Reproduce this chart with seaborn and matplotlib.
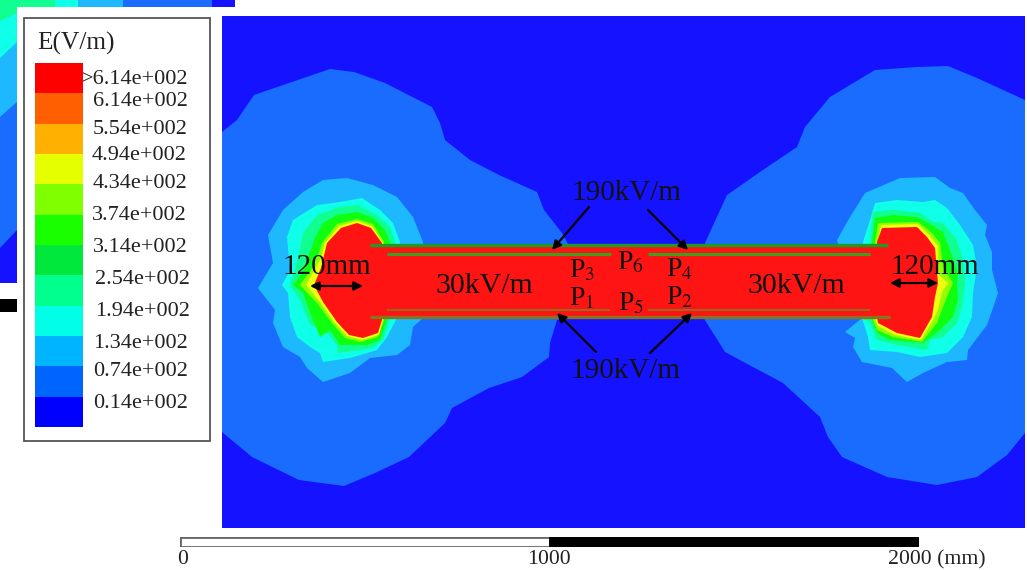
import matplotlib
matplotlib.use('Agg')
import matplotlib.pyplot as plt
from matplotlib.colors import ListedColormap
import numpy as np
import seaborn as sns

W, H = 1027, 570

# Legend
legend_labels = ['>6.14e+002', '6.14e+002', '5.54e+002', '4.94e+002', '4.34e+002', '3.74e+002',
                 '3.14e+002', '2.54e+002', '1.94e+002', '1.34e+002', '0.74e+002', '0.14e+002']
legend_colors = ['#FF0000', '#FF5F00', '#FFB000', '#E6FF00', '#80FF00', '#19FF00',
                 '#00E83C', '#00FF8C', '#00FFE6', '#00B4FF', '#0064FF', '#0000FF']
legend_label_y = [76, 98, 127, 153, 181, 213, 244, 277, 309, 341, 369, 400]
legend_label_right = [188, 188, 188, 187, 187, 187, 188, 190, 190, 188, 188, 188]
legend_levels = [12, 11, 10, 9, 8, 7, 6, 5, 4, 3, 2, 1]

# Field colours, a bit washed compared to the legend
c_outer = '#1512FF'
c_074 = '#1A6CFF'
c_134 = '#1EB8FF'
c_194 = '#10FFE8'
c_254 = '#10FF90'
c_314 = '#10FF10'
c_374 = '#90FF00'
c_434 = '#F0FF10'
c_red = '#FF1414'

# Contour outlines, picture pixels
big_left = [(222, 132), (237, 120), (254, 95), (289, 83), (330, 69), (354, 72), (385, 83), (432, 107),
            (440, 123), (445, 140), (470, 160), (499, 175), (537, 192), (544, 210), (562, 233), (568, 244),
            (568, 318), (557, 320), (550, 343), (549, 357), (522, 377), (489, 388), (452, 408), (445, 423),
            (409, 457), (375, 473), (344, 486), (299, 480), (252, 457), (222, 432)]
big_right = [(705, 243), (727, 195), (760, 172), (797, 147), (805, 127), (830, 97), (875, 70), (917, 67),
             (948, 66), (977, 78), (1025, 100), (1025, 433), (1007, 455), (977, 477), (937, 485), (887, 477),
             (842, 457), (828, 437), (820, 417), (783, 383), (753, 367), (725, 352), (703, 317)]

left_134 = [(303, 192), (323, 180), (347, 178), (373, 185), (397, 197), (413, 217), (417, 227), (423, 242),
            (423, 318), (413, 327), (410, 345), (397, 355), (370, 358), (350, 373), (323, 382), (307, 368),
            (300, 357), (283, 347), (273, 323), (275, 310), (258, 288), (267, 273), (273, 263), (268, 235),
            (283, 210)]
left_194 = [(287, 237), (293, 220), (317, 205), (340, 202), (362, 198), (380, 210), (393, 223), (400, 242),
            (397, 318), (387, 337), (377, 350), (350, 358), (323, 362), (320, 353), (310, 347), (297, 337),
            (290, 317), (288, 293), (282, 285), (290, 270)]
left_254 = [(303, 233), (317, 215), (340, 207), (357, 205), (377, 215), (390, 227), (395, 242), (390, 318),
            (383, 340), (372, 348), (347, 352), (338, 353), (337, 345), (323, 328), (310, 325), (300, 300),
            (290, 285), (295, 270), (300, 250)]
left_314 = [(315, 238), (323, 223), (337, 215), (357, 212), (373, 218), (385, 230), (390, 242), (387, 320),
            (380, 340), (367, 345), (340, 345), (330, 330), (320, 337), (310, 313), (303, 293), (293, 285),
            (302, 273), (308, 257)]
left_374 = [(322, 243), (337, 224), (357, 219), (373, 224), (384, 242), (384, 320), (378, 337), (360, 342),
            (345, 338), (332, 323), (317, 303), (300, 285), (311, 270), (319, 253)]
left_434 = [(325, 243), (339, 226), (357, 221), (372, 226), (383, 243), (383, 320), (379, 335), (362, 340),
            (347, 336), (334, 322), (320, 302), (306, 285), (314, 271), (321, 258)]
left_red = [(327, 243), (341, 228), (357, 223), (371, 228), (382, 243), (382, 320), (378, 333), (363, 338),
            (349, 335), (337, 322), (323, 302), (314, 285), (321, 268)]

right_134 = [(865, 193), (900, 178), (935, 177), (950, 188), (963, 193), (975, 210), (987, 225), (985, 235),
             (992, 252), (992, 270), (998, 293), (993, 308), (987, 325), (968, 350), (967, 360), (947, 362),
             (923, 373), (907, 382), (892, 368), (862, 362), (853, 347), (855, 338), (845, 332), (862, 318),
             (837, 240), (850, 217)]
right_194 = [(870, 220), (875, 203), (897, 200), (923, 202), (935, 200), (947, 208), (960, 225), (973, 245),
             (977, 267), (973, 293), (972, 317), (963, 337), (947, 353), (920, 357), (897, 352), (870, 350),
             (868, 337), (862, 318), (863, 242)]
right_254 = [(870, 242), (873, 212), (893, 210), (920, 213), (933, 222), (943, 223), (957, 240), (963, 260),
             (965, 283), (962, 307), (957, 323), (943, 337), (930, 340), (927, 350), (897, 345), (877, 340),
             (870, 323), (862, 318)]
right_314 = [(872, 242), (875, 218), (893, 215), (917, 217), (932, 225), (943, 232), (950, 250), (958, 273),
             (957, 283), (958, 300), (953, 317), (940, 330), (923, 343), (890, 340), (877, 333), (872, 320)]
right_374 = [(875, 242), (878, 223), (918, 222), (932, 233), (940, 243), (943, 267), (953, 283), (947, 297),
             (943, 307), (937, 323), (922, 342), (893, 337), (877, 330), (873, 320)]
right_434 = [(878, 242), (881, 225), (918, 224), (929, 235), (938, 246), (939, 275), (948, 283), (942, 292),
             (938, 310), (933, 320), (921, 340), (895, 335), (878, 326), (875, 318)]
right_red = [(877, 242), (882, 228), (917, 227), (927, 237), (935, 248), (938, 283), (935, 297), (932, 317),
             (920, 338), (897, 333), (878, 323), (877, 317)]

# Bits of the neighbouring picture top left
corner_deep = [(0, 0), (235, 0), (235, 7), (17, 7), (17, 283), (0, 283)]
corner_074 = [(0, 248), (17, 230), (17, 7), (212, 7), (212, 0), (0, 0)]
corner_134 = [(0, 117), (17, 102), (17, 7), (123, 7), (123, 0), (0, 0)]
corner_194 = [(0, 58), (17, 42), (17, 7), (78, 7), (78, 0), (0, 0)]
corner_254 = [(0, 21), (17, 13), (17, 7), (55, 7), (55, 0), (0, 0)]

sns.set_theme(style='white')
plt.rcParams['font.family'] = ['Liberation Serif', 'DejaVu Serif']
plt.rcParams['mathtext.fontset'] = 'stix'

fig = plt.figure(figsize=(W / 100, H / 100), dpi=100)
ax = fig.add_axes([0, 0, 1, 1])
ax.set_xlim(0, W)
ax.set_ylim(H, 0)
ax.axis('off')

# text in this font sits a bit high with va=center
dy = 3


def poly(points, color, z=1):
    xs, ys = zip(*points)
    ax.fill(xs, ys, color=color, lw=0, zorder=z)


def pixel_axes(x0, y0, x1, y1):
    return fig.add_axes([x0 / W, 1 - y1 / H, (x1 - x0) / W, (y1 - y0) / H])


# top left remainder
poly(corner_deep, c_outer)
poly(corner_074, c_074, 1.1)
poly(corner_134, c_134, 1.2)
poly(corner_194, c_194, 1.3)
poly(corner_254, c_254, 1.4)
ax.fill([0, 17, 17, 0], [299, 299, 312, 312], color='black', lw=0, zorder=1)

# field
ax.fill([222, 1025, 1025, 222], [16, 16, 528, 528], color=c_outer, lw=0, zorder=2)
for side in [(big_left, left_134, left_194, left_254, left_314, left_374, left_434, left_red),
             (big_right, right_134, right_194, right_254, right_314, right_374, right_434, right_red)]:
    for k, (pts, col) in enumerate(zip(side, [c_074, c_134, c_194, c_254, c_314, c_374, c_434, c_red])):
        poly(pts, col, 3 + k * 0.1)

# plates
ax.fill([372, 888, 888, 372], [245, 245, 318, 318], color=c_red, lw=0, zorder=4)
ax.plot([370, 888], [245, 245], color='#209A20', lw=2.4, zorder=5, solid_capstyle='butt')
ax.plot([387, 611], [253.5, 253.5], color='#3E9E20', lw=2.2, zorder=5, solid_capstyle='butt')
ax.plot([648, 870], [253.5, 253.5], color='#3E9E20', lw=2.2, zorder=5, solid_capstyle='butt')
ax.plot([387, 610], [309.5, 309.5], color='#9A6A20', lw=1.4, zorder=5, solid_capstyle='butt')
ax.plot([648, 870], [309.5, 309.5], color='#9A6A20', lw=1.4, zorder=5, solid_capstyle='butt')
ax.plot([370, 890], [316.5, 316.5], color='#8A7220', lw=2.4, zorder=5, solid_capstyle='butt')

# annotations
big = dict(color='#111111', ha='center', va='center', zorder=7)
for x, y, s, size in [(327, 264, '120mm', 21), (935, 264, '120mm', 21),
                      (484, 283, '30kV/m', 21.5), (796, 283, '30kV/m', 21.5),
                      (626, 190, '190kV/m', 21), (625, 368, '190kV/m', 21),
                      (582, 268, 'P$_3$', 20), (582, 296, 'P$_1$', 20), (630, 260, 'P$_6$', 20),
                      (631, 301, 'P$_5$', 20), (680, 267, 'P$_4$', 20), (680, 295, 'P$_2$', 20)]:
    ax.text(x, y + dy, s, fontsize=size, **big)

single = dict(arrowstyle='-|>', color='black', lw=1.6, mutation_scale=13, shrinkA=0, shrinkB=0)
double = dict(arrowstyle='<|-|>', color='black', lw=1.6, mutation_scale=13, shrinkA=0, shrinkB=0)
for start, end in [((589, 207), (552, 250)), ((648, 210), (688, 250)),
                   ((596, 352), (557, 313)), ((650, 353), (692, 313))]:
    ax.annotate('', xy=end, xytext=start, arrowprops=single, zorder=8)
ax.annotate('', xy=(310, 286), xytext=(363, 286), arrowprops=double, zorder=8)
ax.annotate('', xy=(938, 283), xytext=(890, 283), arrowprops=double, zorder=8)

# legend box
ax.fill([24, 210, 210, 24], [18, 18, 441, 441], facecolor='white', edgecolor='#555555', lw=1.3, zorder=6)
ax.text(37, 41 + dy - 1, 'E(V/m)', fontsize=18.3, color='#222222', ha='left', va='center', zorder=7)
for x, y, s in zip(legend_label_right, legend_label_y, legend_labels):
    ax.text(x, y + dy, s, fontsize=16, color='#222222', ha='right', va='center', zorder=7)

cax = pixel_axes(35, 63, 83, 427)
cax.set_zorder(3)
sns.heatmap(np.array(legend_levels).reshape(-1, 1), ax=cax, cmap=ListedColormap(legend_colors[::-1]),
            cbar=False, xticklabels=False, yticklabels=False)

# scale bar, in mm
sax = pixel_axes(180, 537, 919, 547)
sax.set_zorder(3)
scale_left = [0, 1000]
scale_width = [1000, 1000]
scale_colors = ['white', 'black']
sax.barh([0, 0], scale_width, left=scale_left, height=1, color=scale_colors, edgecolor=['#666666', 'black'], lw=2)
sax.set_xlim(0, 2000)
sax.set_ylim(-0.5, 0.5)
sax.axis('off')
for x, s, ha in [(183, '0', 'center'), (549, '1000', 'center'), (888, '2000 (mm)', 'left')]:
    ax.text(x, 569.5, s, fontsize=15.7, color='#222222', ha=ha, va='bottom', zorder=7)

fig.savefig('out.png', dpi=100)
